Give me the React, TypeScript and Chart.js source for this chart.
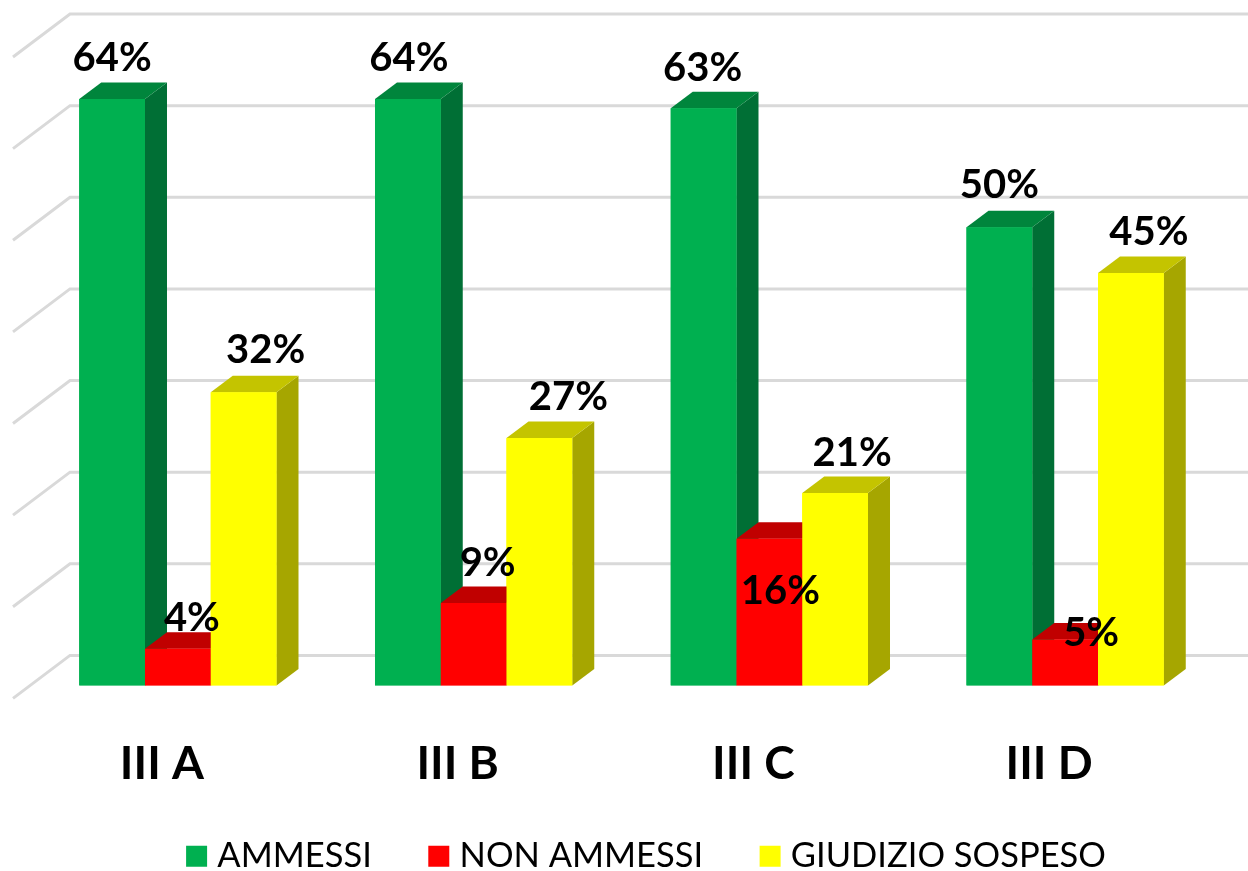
import React, { useEffect, useRef } from "react";
import { Chart, registerables } from "chart.js";

Chart.register(...registerables);

const categories = ["III A", "III B", "III C", "III D"];
const ammessi = [64, 64, 63, 50];
const nonAmmessi = [4, 9, 16, 5];
const giudizioSospeso = [32, 27, 21, 45];
const seriesNames = ["AMMESSI", "NON AMMESSI", "GIUDIZIO SOSPESO"];

const FONT = 'Lato, "Open Sans", sans-serif';
const DEPTH_X = 22;
const DEPTH_Y = 16.5;
const WALL_X = 70;
const WALL_Y = 30;
const FLOOR_X = 13;
const FLOOR_Y = 43;

const faces = [
  { front: "#00B050", top: "#00853C", side: "#006F35" },
  { front: "#FF0000", top: "#C00000", side: "#A00000" },
  { front: "#FFFF00", top: "#C4C400", side: "#A6A600" },
];

// Hand-placed label nudges relative to each bar's centre/top, as in the original
const labelNudges = [
  [[0, -41], [1, -41], [-1, -40], [0, -42]],
  [[14, -31], [14, -40], [11, 52], [26, -6]],
  [[22, -42], [29, -41], [17, -40], [18, -41]],
];

const polygon = (ctx: any, pts: number[][], fill: string) => {
  ctx.beginPath();
  ctx.moveTo(pts[0][0], pts[0][1]);
  pts.slice(1).forEach((p) => ctx.lineTo(p[0], p[1]));
  ctx.closePath();
  ctx.fillStyle = fill;
  ctx.fill();
};

const wallPlugin = {
  id: "wall",
  afterLayout(chart: any) {
    // let the axis labels reach past the axis box without being clipped
    chart.scales.x.bottom = chart.height;
  },
  beforeDatasetsDraw(chart: any) {
    const { ctx, scales, width } = chart;
    ctx.save();
    ctx.strokeStyle = "#D9D9D9";
    ctx.lineWidth = 3;
    scales.y.ticks.forEach((t: any) => {
      const y = scales.y.getPixelForValue(t.value) - WALL_Y;
      ctx.beginPath();
      ctx.moveTo(FLOOR_X, y + FLOOR_Y);
      ctx.lineTo(WALL_X, y);
      ctx.lineTo(width, y);
      ctx.stroke();
    });
    ctx.restore();
  },
};

const barsPlugin = {
  id: "bars3d",
  afterDatasetsDraw(chart: any) {
    const { ctx } = chart;
    chart.data.datasets.forEach((ds: any, i: number) => {
      const meta = chart.getDatasetMeta(i);
      meta.data.forEach((el: any) => {
        const { x, y, base, width } = el.getProps(["x", "y", "base", "width"], true);
        const l = x - width / 2;
        const r = x + width / 2;
        polygon(ctx, [[r, y], [r + DEPTH_X, y - DEPTH_Y], [r + DEPTH_X, base - DEPTH_Y], [r, base]], faces[i].side);
        polygon(ctx, [[l, y], [l + DEPTH_X, y - DEPTH_Y], [r + DEPTH_X, y - DEPTH_Y], [r, y]], faces[i].top);
      });
      meta.data.forEach((el: any) => el.draw(ctx));
    });
    ctx.save();
    ctx.font = `bold 40px ${FONT}`;
    ctx.fillStyle = "#000000";
    ctx.textAlign = "center";
    ctx.textBaseline = "middle";
    chart.data.datasets.forEach((ds: any, i: number) => {
      chart.getDatasetMeta(i).data.forEach((el: any, j: number) => {
        const [dx, dy] = labelNudges[i][j];
        ctx.fillText(`${ds.data[j]}%`, el.x + dx, el.y + dy);
      });
    });
    ctx.restore();
  },
};

export default function App() {
  const ref = useRef<HTMLCanvasElement | null>(null);
  useEffect(() => {
    const chart = new Chart(ref.current as HTMLCanvasElement, {
      type: "bar",
      data: {
        labels: categories,
        datasets: [ammessi, nonAmmessi, giudizioSospeso].map((data, i) => ({
          label: seriesNames[i],
          data,
          backgroundColor: faces[i].front,
          borderWidth: 0,
          barPercentage: 1,
          categoryPercentage: 0.667,
        })),
      },
      options: {
        responsive: false,
        animation: false,
        layout: { padding: { left: 30, right: -21, top: 44, bottom: -12.5 } },
        plugins: {
          tooltip: { enabled: false },
          legend: {
            position: "bottom",
            onClick: () => {},
            labels: {
              usePointStyle: true,
              pointStyle: "rect",
              boxWidth: 7,
              boxHeight: 21,
              padding: 63.5,
              color: "#000000",
              font: { family: FONT, size: 34.5 },
            },
          },
        },
        scales: {
          x: {
            grid: { display: false, drawTicks: false },
            border: { display: false },
            ticks: {
              labelOffset: -16,
              maxRotation: 0,
              padding: 51,
              color: "#000000",
              font: { family: FONT, size: 46, weight: "bold" },
            },
            afterFit: (s: any) => {
              s.height = 90.1;
            },
          },
          y: {
            position: "right",
            min: 0,
            max: 70,
            ticks: { stepSize: 10, display: false },
            grid: { display: false, drawTicks: false },
            border: { display: false },
            afterFit: (s: any) => {
              s.width = 56;
            },
          },
        },
      },
      plugins: [wallPlugin, barsPlugin],
    } as any);
    return () => chart.destroy();
  }, []);
  return (
    <canvas
      ref={ref}
      width={1248}
      height={871}
      style={{ position: "fixed", left: 0, top: 0, display: "block", background: "#FFFFFF" }}
    />
  );
}
